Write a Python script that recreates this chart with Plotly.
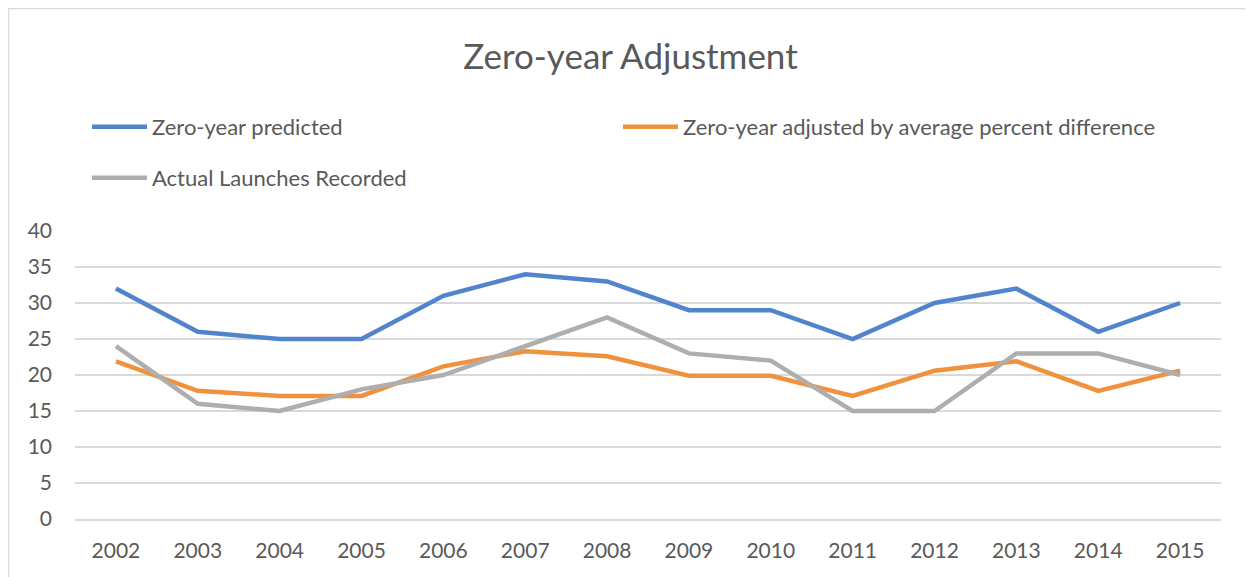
import plotly.graph_objects as go

years = ["2002", "2003", "2004", "2005", "2006", "2007", "2008", "2009",
         "2010", "2011", "2012", "2013", "2014", "2015"]
predicted = [32, 26, 25, 25, 31, 34, 33, 29, 29, 25, 30, 32, 26, 30]
adjusted = [21.9, 17.8, 17.1, 17.1, 21.2, 23.3, 22.6, 19.9, 19.9, 17.1, 20.6, 21.9, 17.8, 20.6]
actual = [24, 16, 15, 18, 20, 24, 28, 23, 22, 15, 15, 23, 23, 20]

FONT = "Lato"
TXT = "#595959"

# page body has an 8px margin, so the figure is 8px smaller than the window
W, H = 1245, 569
L, R, T, B = 67, 32, 223, 58
PW, PH = W - L - R, H - T - B

fig = go.Figure()
fig.add_trace(go.Scatter(x=years, y=predicted, mode="lines", name="Zero-year predicted",
                         line=dict(color="#5284ce", width=4.5), legend="legend"))
fig.add_trace(go.Scatter(x=years, y=adjusted, mode="lines",
                         name="Zero-year adjusted by average percent difference",
                         line=dict(color="#f0913d", width=4.5), legend="legend3"))
fig.add_trace(go.Scatter(x=years, y=actual, mode="lines", name="Actual Launches Recorded",
                         line=dict(color="#aeaeae", width=4.5), legend="legend2"))

leg_common = dict(orientation="h", xanchor="left", yanchor="middle", itemwidth=55,
                  font=dict(size=22, color=TXT, family=FONT), bgcolor="rgba(0,0,0,0)")

fig.update_layout(
    width=W, height=H,
    margin=dict(l=L, r=R, t=T, b=B, autoexpand=False),
    paper_bgcolor="white", plot_bgcolor="white",
    font=dict(family=FONT, color=TXT, size=20),
    title=dict(text="Zero-year Adjustment", x=0.5, xanchor="center", y=1 - 49 / H, yanchor="middle",
               font=dict(size=35, color=TXT, family=FONT)),
    showlegend=True,
    legend=dict(x=12 / PW, y=(PH - 119 + T) / PH, **leg_common),
    legend3=dict(x=543 / PW, y=(PH - 119 + T) / PH, **leg_common),
    legend2=dict(x=12 / PW, y=(PH - 170 + T) / PH, **leg_common),
    xaxis=dict(type="category", range=[-0.5, 13.5], showgrid=False, showline=True,
               linecolor="#d9d9d9", linewidth=1.5, ticks="", tickfont=dict(size=21, color=TXT),
               ticklabelstandoff=12),
    yaxis=dict(range=[0, 40], dtick=5, showgrid=True, gridcolor="#d9d9d9", gridwidth=1.5,
               zeroline=False, showline=False, ticks="", tickfont=dict(size=21, color=TXT),
               ticklabelstandoff=22),
    shapes=[dict(type="rect", xref="paper", yref="paper",
                 x0=(0.5 - L) / PW, x1=(W + 20 - L) / PW,
                 y0=(PH + T - H - 20) / PH, y1=(PH + T - 0.5) / PH,
                 line=dict(color="#d9d9d9", width=1.5), fillcolor="rgba(0,0,0,0)", layer="below")],
)

fig.write_html("out.html")
